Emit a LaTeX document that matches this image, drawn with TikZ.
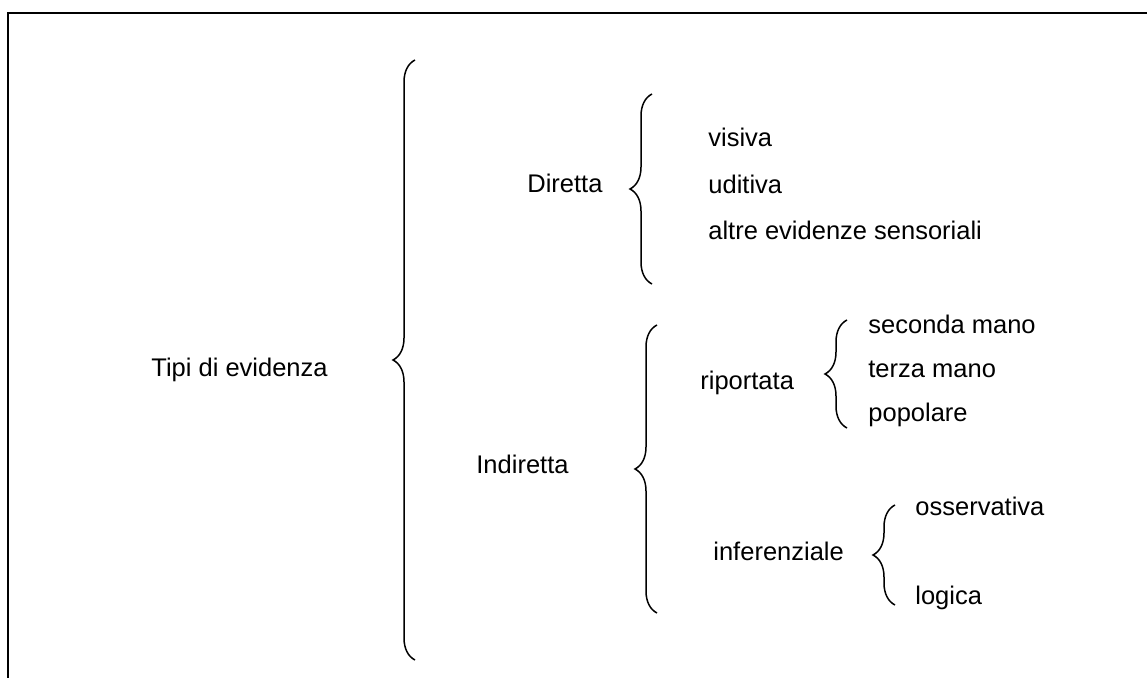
\documentclass[tikz,border=0pt]{standalone}
\usepackage{fontspec}
\setmainfont{Liberation Sans}
\usetikzlibrary{positioning,decorations.pathreplacing}

\begin{document}
\begin{tikzpicture}[x=0.5pt, y=-0.5pt,
    every node/.style={font=\fontsize{12.75}{15}\selectfont, inner sep=0pt},
    term/.style={anchor=base west},
    leaf/.style={text height=9.5pt, text depth=2.5pt},
    curly/.style={draw, line width=0.75pt, decorate, decoration={brace, amplitude=11pt}}]
    \useasboundingbox (0,0) rectangle (1147,678);
    % frame (only top and left edges show)
    \draw[line width=1.1pt] (1147,13) -- (8,13) -- (8,678);

    \node[term] (tipi) at (151,377) {Tipi di evidenza};
    \node[term] (diretta) at (527,193) {Diretta};
    \node[term] (indiretta) at (476,474) {Indiretta};
    \node[term] (riportata) at (700,390) {riportata};
    \node[term] (inferenziale) at (713,561) {inferenziale};

    \node[leaf, anchor=base west] (visiva) at (708,147) {visiva};
    \node[leaf, below right=10.75pt and 0pt of visiva.south west] (uditiva) {uditiva};
    \node[leaf, below right=10.75pt and 0pt of uditiva.south west] (altre) {altre evidenze sensoriali};

    \node[leaf, anchor=base west] (seconda) at (868,334) {seconda mano};
    \node[leaf, below right=9.5pt and 0pt of seconda.south west] (terza) {terza mano};
    \node[leaf, below right=9.5pt and 0pt of terza.south west] (popolare) {popolare};

    \node[leaf, anchor=base west] (osservativa) at (915,516) {osservativa};
    \node[leaf, below right=32pt and 0pt of osservativa.south west] (logica) {logica};

    % braces
    \coordinate (tipiT) at (415,60);
    \coordinate (tipiB) at (415,660);
    \coordinate (dirT) at (652,94);
    \coordinate (dirB) at (652,284);
    \coordinate (indT) at (657,325);
    \coordinate (indB) at (657,613);
    \coordinate (ripT) at (847,320);
    \coordinate (ripB) at (847,428);
    \coordinate (infT) at (895,505);
    \coordinate (infB) at (895,605);

    \draw[curly] (tipiB) -- (tipiT);
    \draw[curly] (dirB) -- (dirT);
    \draw[curly] (indB) -- (indT);
    \draw[curly] (ripB) -- (ripT);
    \draw[curly] (infB) -- (infT);
\end{tikzpicture}
\end{document}
